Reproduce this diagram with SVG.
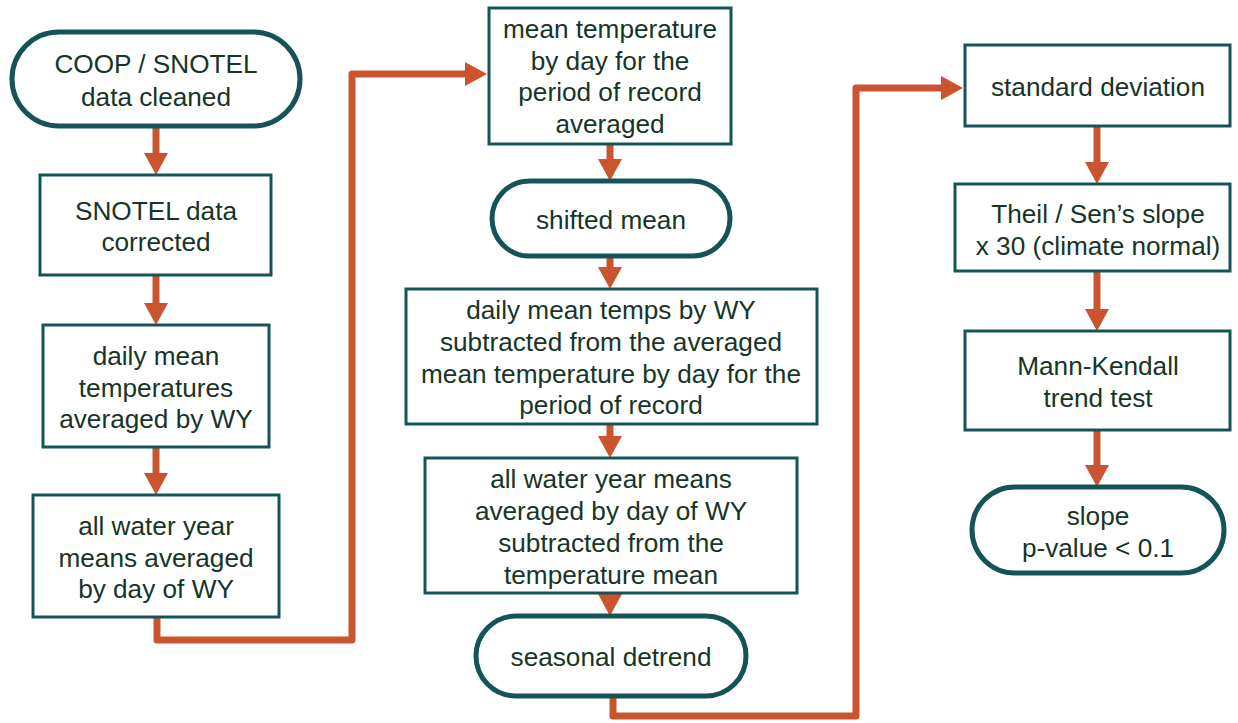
<svg xmlns="http://www.w3.org/2000/svg" width="1238" height="723" viewBox="0 0 1238 723">
<style>
.t{fill:#fff;stroke:#145457;stroke-width:5}
.r{fill:#fff;stroke:#145457;stroke-width:3}
text{font-family:"Liberation Sans",Arial,sans-serif;font-size:26.2px;fill:#173527;text-anchor:middle}
.c{fill:none;stroke:#cb5430;stroke-width:7;stroke-linejoin:round}
</style>
<defs>
<marker id="ah" viewBox="0 0 22 24" refX="0" refY="12" markerWidth="22" markerHeight="24" markerUnits="userSpaceOnUse" orient="auto">
<path d="M0,0 L22,12 L0,24 z" fill="#cb5430"/>
</marker>
</defs>
<g id="connectors">
<path class="c" marker-end="url(#ah)" d="M156,126 V153"/>
<path class="c" marker-end="url(#ah)" d="M156,275 V303"/>
<path class="c" marker-end="url(#ah)" d="M156,447 V473"/>
<path class="c" marker-end="url(#ah)" d="M157,617 V640 H352 V74 H465"/>
<path class="c" marker-end="url(#ah)" d="M610,144 V159"/>
<path class="c" marker-end="url(#ah)" d="M610,256 V267"/>
<path class="c" marker-end="url(#ah)" d="M610,424 V436"/>
<path class="c" marker-end="url(#ah)" d="M610,592 V594"/>
<path class="c" marker-end="url(#ah)" d="M613,696 V716 H856 V88 H941"/>
<path class="c" marker-end="url(#ah)" d="M1097,126 V162"/>
<path class="c" marker-end="url(#ah)" d="M1097,271 V309"/>
<path class="c" marker-end="url(#ah)" d="M1097,430 V465"/>
</g>
<g id="n1"><rect class="t" x="12" y="32" width="288" height="94" rx="47"/><text x="156" y="73">COOP / SNOTEL</text><text x="156" y="106">data cleaned</text></g>
<g id="n2"><rect class="r" x="40" y="175" width="231" height="100"/><text x="156" y="220">SNOTEL data</text><text x="156" y="251">corrected</text></g>
<g id="n3"><rect class="r" x="43" y="325" width="226" height="122"/><text x="156" y="365">daily mean</text><text x="156" y="397">temperatures</text><text x="156" y="428">averaged by WY</text></g>
<g id="n4"><rect class="r" x="33" y="495" width="246" height="122"/><text x="156" y="535">all water year</text><text x="156" y="567">means averaged</text><text x="156" y="598">by day of WY</text></g>
<g id="n5"><rect class="r" x="489" y="8" width="242" height="136"/><text x="610" y="38">mean temperature</text><text x="610" y="70">by day for the</text><text x="610" y="101">period of record</text><text x="610" y="133">averaged</text></g>
<g id="n6"><rect class="t" x="492" y="181" width="238" height="75" rx="37.5"/><text x="611" y="229">shifted mean</text></g>
<g id="n7"><rect class="r" x="406" y="289" width="411" height="135"/><text x="611" y="319">daily mean temps by WY</text><text x="611" y="351">subtracted from the averaged</text><text x="611" y="383">mean temperature by day for the</text><text x="611" y="414">period of record</text></g>
<g id="n8"><rect class="r" x="425" y="458" width="372" height="135"/><text x="611" y="488">all water year means</text><text x="611" y="520">averaged by day of WY</text><text x="611" y="552">subtracted from the</text><text x="611" y="584">temperature mean</text></g>
<g id="n9"><rect class="t" x="476" y="616" width="270" height="80" rx="40"/><text x="611" y="666">seasonal detrend</text></g>
<g id="n10"><rect class="r" x="965" y="45" width="265" height="81"/><text x="1098" y="96">standard deviation</text></g>
<g id="n11"><rect class="r" x="955" y="184" width="275" height="87"/><text x="1098" y="223">Theil / Sen’s slope</text><text x="1098" y="255">x 30 (climate normal)</text></g>
<g id="n12"><rect class="r" x="965" y="331" width="265" height="99"/><text x="1098" y="375">Mann-Kendall</text><text x="1098" y="407">trend test</text></g>
<g id="n13"><rect class="t" x="972" y="487" width="252" height="86" rx="43"/><text x="1098" y="525">slope</text><text x="1098" y="557">p-value &lt; 0.1</text></g>
</svg>
